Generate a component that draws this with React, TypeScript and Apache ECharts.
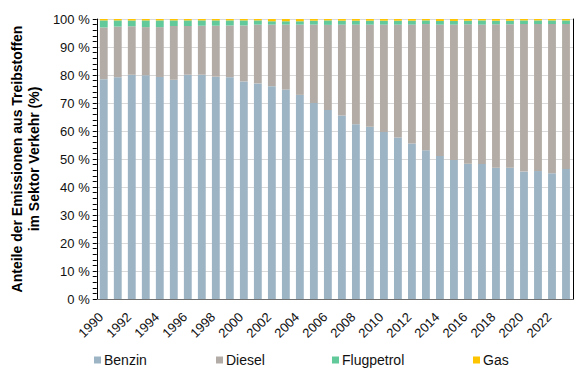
import React, { useEffect, useRef } from "react";
import * as echarts from "echarts";

const years = [
  "1990","1991","1992","1993","1994","1995","1996","1997","1998","1999",
  "2000","2001","2002","2003","2004","2005","2006","2007","2008","2009",
  "2010","2011","2012","2013","2014","2015","2016","2017","2018","2019",
  "2020","2021","2022","2023",
];
const benzin = [
  78.5, 79.2, 80.1, 79.9, 79.3, 78.3, 80.1, 80.1, 79.4, 79.2,
  77.7, 77.0, 76.0, 74.8, 72.9, 70.0, 67.5, 65.5, 62.4, 61.5,
  59.6, 57.7, 55.5, 53.1, 51.1, 49.6, 48.3, 48.2, 46.9, 46.9,
  45.5, 45.7, 44.9, 46.4,
];
const diesel = [
  18.5, 18.1, 17.3, 17.2, 17.8, 19.2, 17.4, 17.5, 18.2, 18.5,
  20.0, 21.0, 22.0, 23.2, 25.1, 28.0, 30.4, 32.5, 35.6, 36.5,
  38.4, 40.3, 42.5, 45.1, 46.9, 48.4, 49.8, 49.8, 51.2, 51.2,
  52.7, 52.5, 53.3, 51.8,
];
const flugpetrol = [
  2.5, 2.2, 2.1, 2.4, 2.4, 2.0, 2.0, 1.9, 1.9, 1.8,
  1.8, 1.5, 1.2, 1.2, 1.2, 1.4, 1.6, 1.4, 1.4, 1.4,
  1.4, 1.4, 1.4, 1.3, 1.3, 1.3, 1.3, 1.5, 1.3, 1.3,
  1.3, 1.3, 1.3, 1.3,
];
const gas = [
  0.5, 0.5, 0.5, 0.5, 0.5, 0.5, 0.5, 0.5, 0.5, 0.5,
  0.5, 0.5, 0.8, 0.8, 0.8, 0.6, 0.5, 0.6, 0.6, 0.6,
  0.6, 0.6, 0.6, 0.5, 0.7, 0.7, 0.6, 0.5, 0.6, 0.6,
  0.5, 0.5, 0.5, 0.5,
];
const seriesNames = ["Benzin", "Diesel", "Flugpetrol", "Gas"];
const seriesColors = ["#9db4c4", "#b3aca6", "#62c99a", "#ffc400"];
const legendLeft = [94, 216, 332, 473];

const FONT = "'Liberation Sans', Arial, sans-serif";

export default function App() {
  const ref = useRef<HTMLDivElement>(null);
  useEffect(() => {
    if (!ref.current) return;
    const chart = echarts.init(ref.current, null, { renderer: "svg" });
    const dataSets = [benzin, diesel, flugpetrol, gas];
    chart.setOption({
      animation: false,
      textStyle: { fontFamily: FONT },
      grid: { left: 89, right: 15, top: 19, bottom: 72, containLabel: false },
      legend: seriesNames.map((n, i) => ({
        data: [n],
        left: legendLeft[i],
        top: 353,
        itemWidth: 7,
        itemHeight: 7,
        icon: "rect",
        padding: 0,
        textStyle: { fontFamily: FONT, fontSize: 14, color: "#111", padding: [0, 0, 0, -2] },
      })),
      xAxis: [
        {
          type: "category",
          data: years,
          boundaryGap: true,
          axisLine: { lineStyle: { color: "#000", width: 1 } },
          axisTick: { interval: 0, length: 5, lineStyle: { color: "#000" } },
          axisLabel: {
            interval: 1,
            rotate: 45,
            margin: 13,
            fontSize: 13,
            color: "#111",
            fontFamily: FONT,
            padding: [0, 4, 0, 0],
          },
          splitLine: { show: false },
        },
        {
          type: "category",
          position: "top",
          data: years,
          axisLine: { show: true, lineStyle: { color: "#707070", width: 1 } },
          axisTick: { show: false },
          axisLabel: { show: false },
        },
      ],
      yAxis: [
        {
          type: "value",
          min: 0,
          max: 100,
          interval: 10,
          axisLine: { show: true, lineStyle: { color: "#000" } },
          axisTick: { show: true, length: 4, lineStyle: { color: "#000" } },
          minorTick: { show: true, splitNumber: 5, length: 4, lineStyle: { color: "#000" } },
          axisLabel: {
            formatter: "{value} %",
            fontSize: 13,
            color: "#111",
            margin: 7,
            fontFamily: FONT,
          },
          splitLine: { show: true, lineStyle: { color: "#d9d9d9", width: 1 } },
          name: "Anteile der Emissionen aus Treibstoffen\nim Sektor Verkehr (%)",
          nameLocation: "middle",
          nameGap: 48,
          nameTextStyle: {
            fontFamily: FONT,
            fontSize: 14,
            fontWeight: "bold",
            color: "#000",
            lineHeight: 17,
          },
        },
        {
          type: "value",
          position: "right",
          min: 0,
          max: 100,
          interval: 10,
          axisLine: { show: true, lineStyle: { color: "#000" } },
          axisTick: { show: false },
          axisLabel: { show: false },
          splitLine: { show: false },
        },
      ],
      series: seriesNames.map((n, i) => ({
        name: n,
        type: "bar",
        stack: "total",
        data: dataSets[i],
        barCategoryGap: "44%",
        itemStyle: { color: seriesColors[i] },
      })),
    });
    return () => chart.dispose();
  }, []);
  return (
    <div
      ref={ref}
      style={{ position: "fixed", left: 0, top: 0, width: 588, height: 371, background: "#fff" }}
    />
  );
}
